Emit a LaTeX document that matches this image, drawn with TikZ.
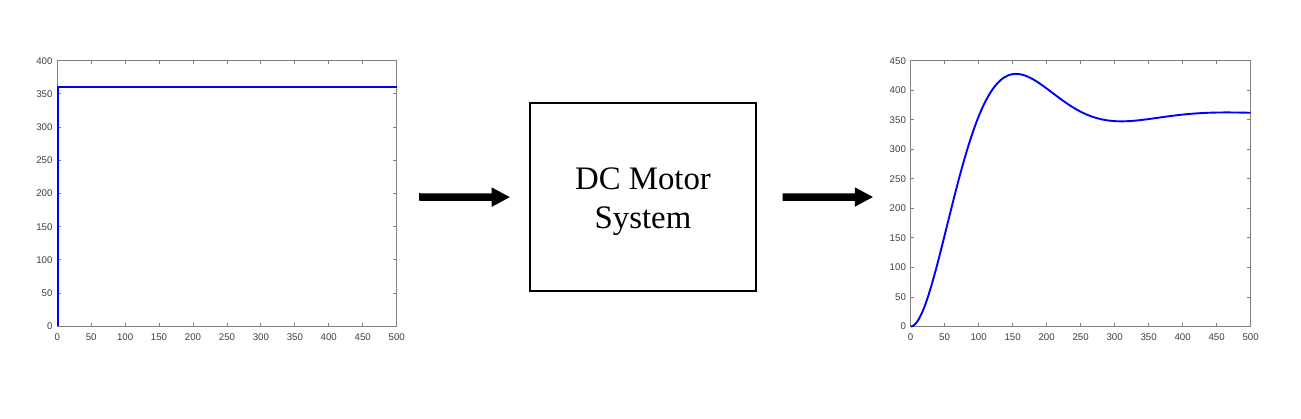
\documentclass[tikz,border=0pt]{standalone}
\usepackage{fontspec}
\setmainfont{Liberation Serif}
\newfontfamily\axfont{Liberation Sans}
\usetikzlibrary{arrows.meta}
\definecolor{axgray}{gray}{0.5}
\definecolor{labgray}{gray}{0.25}
\definecolor{mblue}{rgb}{0,0,1}
\tikzset{
  axisline/.style={draw=axgray, line width=0.9pt},
  ticklab/.style={font=\axfont\fontsize{9.7}{10}\selectfont, text=labgray, inner sep=0pt},
  xlab/.style={ticklab, anchor=north, yshift=-7pt},
  ylab/.style={ticklab, anchor=east, xshift=-4.5pt},
  curve/.style={draw=mblue, line width=1.9pt, line join=round},
  sysbox/.style={draw=black, line width=1.6pt, minimum width=226pt, minimum height=188pt, inner sep=0pt},
  syslabel/.style={align=center, font=\fontsize{32.8}{39}\selectfont, inner sep=0pt},
  bigarrow/.style={draw=black, line width=7.5pt, -{Triangle[length=18.5pt, width=18pt]}},
}
\begin{document}
\begin{tikzpicture}[x=1pt, y=-1pt]
\path[use as bounding box, fill=white] (0,0) rectangle (1301,419);

% left plot: input
\begin{scope}[shift={(57.2,326.3)}, x=0.679pt, y=0.664pt]
  \draw[axisline] (0,0) rectangle (500,400);
  \foreach \t in {0,50,...,500} {
    \draw[axisline] (\t,0) -- ++(0pt,3.5pt);
    \draw[axisline] (\t,400) -- ++(0pt,-3.5pt);
    \node[xlab] (lx\t) at (\t,0) {\t};
  }
  \foreach \v in {0,50,...,400} {
    \draw[axisline] (0,\v) -- ++(3.5pt,0pt);
    \draw[axisline] (500,\v) -- ++(-3.5pt,0pt);
    \node[ylab] (ly\v) at (0,\v) {\v};
  }
  \draw[curve] (1,0) -- (1,360) -- (500,360);
\end{scope}

% right plot: output
\begin{scope}[shift={(910.6,326.5)}, x=0.68pt, y=0.5907pt]
  \draw[axisline] (0,0) rectangle (500,450);
  \foreach \t in {0,50,...,500} {
    \draw[axisline] (\t,0) -- ++(0pt,3.5pt);
    \draw[axisline] (\t,450) -- ++(0pt,-3.5pt);
    \node[xlab] (rx\t) at (\t,0) {\t};
  }
  \foreach \v in {0,50,...,450} {
    \draw[axisline] (0,\v) -- ++(3.5pt,0pt);
    \draw[axisline] (500,\v) -- ++(-3.5pt,0pt);
    \node[ylab] (ry\v) at (0,\v) {\v};
  }
  \draw[curve] plot[domain=0:500, samples=300, smooth]
    (\x, {360*(1-exp(-0.01079*\x)*(cos(deg(0.020268*\x))+0.532*sin(deg(0.020268*\x))))});
\end{scope}

% system block
\node[sysbox] (sys) at (643,197.2) {};
\node[syslabel] (syslab) at (643,201.4) {DC Motor\\System};

% arrows
\coordinate (a1s) at (419,197);
\coordinate (a2e) at (873.3,197);
\draw[bigarrow, shorten >=19pt] (a1s) -- (sys.west);
\draw[bigarrow, shorten <=25.7pt] (sys.east) -- (a2e);
\end{tikzpicture}
\end{document}
